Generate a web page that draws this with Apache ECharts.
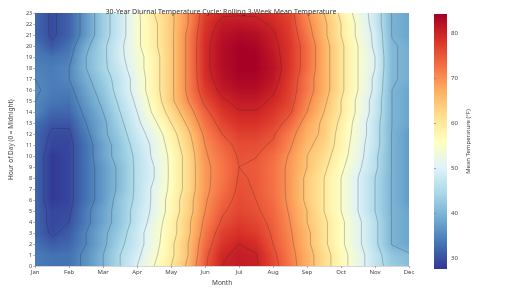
<!DOCTYPE html>
<html><head><meta charset="utf-8">
<script src="https://cdn.jsdelivr.net/npm/echarts@6/dist/echarts.min.js"></script>
<style>html,body{margin:0;padding:0;background:#fff}#c{width:512px;height:292px}</style>
</head><body><div id="c"></div>
<script>
// ---- data ----
const monthLabels = ['Jan','Feb','Mar','Apr','May','Jun','Jul','Aug','Sep','Oct','Nov','Dec'];
const hours = [0,1,2,3,4,5,6,7,8,9,10,11,12,13,14,15,16,17,18,19,20,21,22,23];
// sample positions along the year, in months from Jan
const sampleMonths = [0,0.5,1,1.5,2,2.5,3,3.5,4,4.5,5,5.5,6,6.5,7,7.5,8,8.5,9,9.5,10,10.5,11];
// rolling 3-week mean temperature (°F), one row per hour of day
const tempByHour = [
 [34,33,33,36,40,45,50,55,60,66,74.5,80,81,80.5,76.5,72,67,62,57,52,47,43,41],
 [34,33,33,36,40,45,49,54,59,65,74,79.5,80.8,80.2,76,71.5,67,62,57,52,47,42,40.5],
 [33,31,32,35,39,44,48,53,59,65,73,78,80,79,75,71,66,61,56,51,46,39.8,38],
 [32,29.5,31,35,39,43,48,53,58,64,72,77,78.5,77.5,74.5,70.5,66,61,56,51,46,39.8,38],
 [32,29,30,34,38,42,47,52,58,64,71,75.5,77.5,76.5,74,70,65,61,56,51,46,39.8,38],
 [32,29,29.5,34,38,42,47,51,57,63,70,74.5,76.5,75.5,73.5,69.5,65,60,55,50,45,39.8,38],
 [32,28,29,33,37,42,46,51,57,63,69.5,73.5,76,75,73,69,64,60,55,50,45,39.8,37],
 [32,28,29,33,37,41,46,51,56,62,69,72.5,75.6,74.8,72.5,69,64,60,55,50,45,39.8,37],
 [32,28,29,33,37,41,46,50,56,62,69,72,75.3,74.7,72.5,69,64,60,55,50,45,39.8,37],
 [32,28,29,33,37,41,46,50,56,62,69,72,75,74.5,72.5,69,65,61,56,51,46,39.8,37],
 [32,28,29,33,38,42,46,51,56,62,69.5,72.5,75.4,75.1,73,69.5,65,62,57,52,46,39.8,37],
 [32,29,29,33,38,42,47,51,57,63,70,73.5,76,75.8,74.5,70.5,66,63,58,52,47,39.8,37],
 [32,29.5,29.5,34,39,43,48,52,58,64,71,75,77,77,75.5,71.5,67,64,58,53,47,39.8,37],
 [33,30.5,30.5,35,39,44,49,54,60,66,72.5,76.5,78.5,78.5,77,73.5,68,64,59,53,47,40,38],
 [35,32,32,36,40,45,50,56,62,68,74,78,79.8,79.8,78,75.5,70,65,60,54,48,40,38],
 [35,33.5,33,37,41,46,51,57,64,70,76,79.5,81,81,79.5,76.5,71,66,60,54,48,40,38],
 [35.5,34,34,38,42,47,52,58,64,71,77.5,81,82.5,82.5,80.5,77,72,67,61,55,49,40,38],
 [35,34,35,39,43,47,52,58,64,71,78.5,82,83.5,83.5,81.5,77.5,72,67,61,55,49,40.5,39],
 [34.5,34,35,40,44,48,53,58,64,71,79,82.5,84,84,82,78,73,67,61,55,50,40.5,39],
 [34,33,34,40,44,49,53,58,64,71,79,82.5,84,84,81.5,78,73,67,61,55,50,40.5,39],
 [33.5,30.5,33,39,44,49,54,59,64,71,79,82.5,84,83.5,81,78,73,67,61,55,49,40.5,39],
 [32,29.5,31.5,37,43,48,54,59,64,71,78.5,82,83,82.5,80.5,77.5,72,66,60,54,49,39.8,38],
 [32,29.5,31.5,37,43,48,54,59,64,70,78,81,81.5,81,79.5,77,71,66,60,54,48,39.8,38],
 [32,29.5,31.5,37,43,48,54,60,64,70,77,79.5,79.5,79.5,78.5,76.5,70,65,59,53,48,39.8,38]
];
const contourLevels = [30,35,40,45,50,55,60,65,70,75,80];
const colorbarTicks = [30,40,50,60,70,80];
const colorMin = 27.6, colorMax = 84.2;

// ---- colormap (RdYlBu reversed) ----
const cmapStops = ['#313695','#4575b4','#74add1','#abd9e9','#e0f3f8','#ffffbf','#fee090','#fdae61','#f46d43','#d73027','#a50026'];
function hex2rgb(h){return [parseInt(h.slice(1,3),16),parseInt(h.slice(3,5),16),parseInt(h.slice(5,7),16)];}
const cmapRGB = cmapStops.map(hex2rgb);
function cmap(v){
  let t = (v - colorMin)/(colorMax - colorMin);
  t = Math.max(0, Math.min(1, t));
  const p = t*(cmapRGB.length-1);
  const i = Math.min(cmapRGB.length-2, Math.floor(p));
  const f = p - i;
  const a = cmapRGB[i], b = cmapRGB[i+1];
  return 'rgb(' + [0,1,2].map(k => Math.round(a[k] + (b[k]-a[k])*f)).join(',') + ')';
}

// ---- cells spanning neighbouring samples ----
const cellData = [];
for (let j = 0; j < hours.length - 1; j++) {
  for (let i = 0; i < sampleMonths.length - 1; i++) {
    cellData.push([sampleMonths[i], hours[j], sampleMonths[i+1], hours[j+1],
      tempByHour[j][i], tempByHour[j][i+1], tempByHour[j+1][i], tempByHour[j+1][i+1]]);
  }
}

const FONT = 'Noto Sans';
const chart = echarts.init(document.getElementById('c'), null, {renderer: 'canvas'});

function renderCell(params, api) {
  const m0 = api.value(0), h0 = api.value(1), m1 = api.value(2), h1 = api.value(3);
  const v00 = api.value(4), v10 = api.value(5), v01 = api.value(6), v11 = api.value(7);
  const pLB = api.coord([m0, h0]), pRT = api.coord([m1, h1]);
  const xL = Math.round(pLB[0]), xR = Math.round(pRT[0]);
  const yB = Math.round(pLB[1]), yT = Math.round(pRT[1]);
  const children = [];
  const span = pLB[1] - pRT[1];
  for (let y = yT; y < yB; y++) {
    let t = (pLB[1] - (y + 0.5)) / span;
    t = Math.max(0, Math.min(1, t));
    const vl = v00 + (v01 - v00) * t, vr = v10 + (v11 - v10) * t;
    children.push({
      type: 'rect',
      shape: {x: xL, y: y, width: xR - xL, height: 1},
      style: {fill: new echarts.graphic.LinearGradient(0, 0, 1, 0, [
        {offset: 0, color: cmap(vl)},
        {offset: 0.5, color: cmap((vl + vr) / 2)},
        {offset: 1, color: cmap(vr)}
      ])}
    });
  }
  return {type: 'group', children: children};
}

function renderContour(params, api) {
  const L = api.value(0);
  const children = [];
  const nR = hours.length, nC = sampleMonths.length;
  const P = (m, h) => api.coord([m, h]);
  for (let j = 0; j < nR - 1; j++) {
    for (let i = 0; i < nC - 1; i++) {
      const corners = [
        [sampleMonths[i], hours[j], tempByHour[j][i]],
        [sampleMonths[i+1], hours[j], tempByHour[j][i+1]],
        [sampleMonths[i+1], hours[j+1], tempByHour[j+1][i+1]],
        [sampleMonths[i], hours[j+1], tempByHour[j+1][i]]
      ];
      const pts = [];
      for (let k = 0; k < 4; k++) {
        const a = corners[k], b = corners[(k+1)%4];
        const da = a[2] - L, db = b[2] - L;
        if ((da < 0 && db >= 0) || (da >= 0 && db < 0)) {
          const t = da / (da - db);
          pts.push([a[0] + (b[0]-a[0])*t, a[1] + (b[1]-a[1])*t]);
        }
      }
      const segs = [];
      if (pts.length === 2) segs.push([pts[0], pts[1]]);
      else if (pts.length === 4) {
        const c = (corners[0][2]+corners[1][2]+corners[2][2]+corners[3][2])/4;
        if ((c >= L) === (corners[0][2] >= L)) { segs.push([pts[0], pts[1]]); segs.push([pts[2], pts[3]]); }
        else { segs.push([pts[0], pts[3]]); segs.push([pts[1], pts[2]]); }
      }
      segs.forEach(s => {
        const p1 = P(s[0][0], s[0][1]), p2 = P(s[1][0], s[1][1]);
        children.push({type: 'line', shape: {x1: p1[0], y1: p1[1], x2: p2[0], y2: p2[1]},
          style: {stroke: 'rgba(35,35,35,0.5)', lineWidth: 0.5}});
      });
    }
  }
  return {type: 'group', children: children};
}

const barGradient = new echarts.graphic.LinearGradient(0, 1, 0, 0,
  cmapStops.map((c, k) => ({offset: k/(cmapStops.length-1), color: c})));

chart.setOption({
  animation: false,
  backgroundColor: '#fff',
  textStyle: {fontFamily: FONT},
  title: {
    text: '30-Year Diurnal Temperature Cycle: Rolling 3-Week Mean Temperature',
    left: 216, top: 3, textAlign: 'center',
    textStyle: {fontFamily: FONT, fontSize: 7, fontWeight: 'normal', color: '#333'}
  },
  grid: [
    {left: 23, right: 103, top: 13, bottom: 22, containLabel: false},
    {left: 434, width: 13, top: 14, height: 255, show: true, backgroundColor: barGradient, borderWidth: 0}
  ],
  xAxis: [
    {type: 'value', gridIndex: 0, min: 0, max: 11, interval: 1,
     name: 'Month', nameLocation: 'middle', nameGap: 13,
     nameTextStyle: {fontFamily: FONT, fontSize: 6.5, color: '#444'},
     axisLine: {show: true, lineStyle: {color: '#bbb', width: 0.6}},
     axisTick: {show: true, length: 2, lineStyle: {color: '#666', width: 0.5}},
     axisLabel: {fontFamily: FONT, fontSize: 6, color: '#444', margin: 3,
       formatter: v => monthLabels[Math.round(v)] || ''},
     splitLine: {show: false}},
    {type: 'value', gridIndex: 1, show: false, min: 0, max: 1}
  ],
  yAxis: [
    {type: 'value', gridIndex: 0, min: 0, max: 23, interval: 1,
     name: 'Hour of Day (0 = Midnight)', nameLocation: 'middle', nameGap: 15, nameRotate: 90,
     nameTextStyle: {fontFamily: FONT, fontSize: 6.5, color: '#444'},
     axisLine: {show: true, lineStyle: {color: '#bbb', width: 0.6}},
     axisTick: {show: true, length: 2, lineStyle: {color: '#666', width: 0.5}},
     axisLabel: {fontFamily: FONT, fontSize: 5.5, color: '#444', margin: 3,
       formatter: v => String(hours[Math.round(v)])},
     splitLine: {show: false}},
    {type: 'value', gridIndex: 1, min: colorMin, max: colorMax, position: 'right',
     name: 'Mean Temperature (°F)', nameLocation: 'middle', nameGap: 18, nameRotate: 90,
     nameTextStyle: {fontFamily: FONT, fontSize: 6, color: '#444'},
     axisLine: {show: false},
     axisTick: {show: true, length: 2, lineStyle: {color: '#666', width: 0.5}, customValues: colorbarTicks},
     axisLabel: {fontFamily: FONT, fontSize: 6, color: '#444', margin: 4, customValues: colorbarTicks},
     splitLine: {show: false}}
  ],
  series: [
    {type: 'custom', xAxisIndex: 0, yAxisIndex: 0, data: cellData, renderItem: renderCell, clip: true, silent: true, z: 1},
    {type: 'custom', xAxisIndex: 0, yAxisIndex: 0, data: contourLevels.map(l => [l]), renderItem: renderContour, clip: true, silent: true, z: 2,
     encode: {x: -1, y: -1}}
  ]
});
</script></body></html>
